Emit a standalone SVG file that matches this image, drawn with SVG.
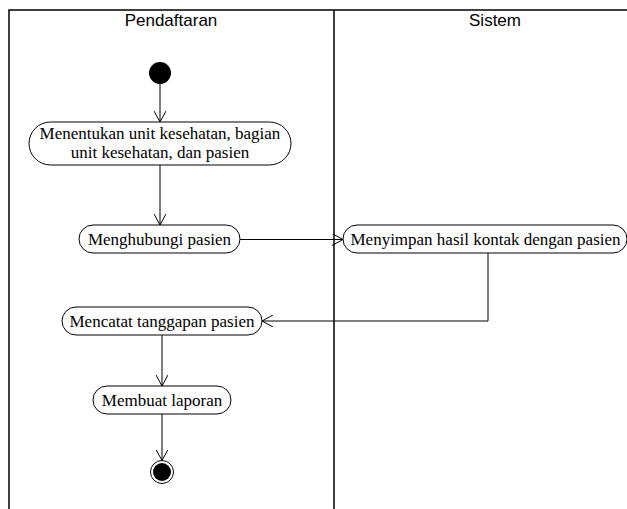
<svg xmlns="http://www.w3.org/2000/svg" width="627" height="509" viewBox="0 0 627 509">
  <defs>
    <marker id="open" viewBox="0 0 12 12" refX="11" refY="6" markerWidth="12" markerHeight="12" markerUnits="userSpaceOnUse" orient="auto">
      <path d="M0,0 L11,6 L0,12" fill="none" stroke="#000" stroke-width="1"/>
    </marker>
  </defs>
  <style>
    .lane { stroke: #000; stroke-width: 1.5; fill: none; }
    .hdr { font-family: "Liberation Sans", Arial, sans-serif; font-size: 17px; fill: #000; text-anchor: middle; }
    .act rect { fill: #fff; stroke: #000; stroke-width: 1; }
    .act text { font-family: "Liberation Serif", "Times New Roman", serif; font-size: 17px; fill: #000; text-anchor: middle; }
    .edge { stroke: #000; stroke-width: 1; fill: none; marker-end: url(#open); }
  </style>
  <rect width="627" height="509" fill="#fff"/>

  <!-- swimlanes -->
  <g id="lanes">
    <path class="lane" d="M9,509 V10 H627 M334,10 V509"/>
    <text class="hdr" x="171" y="26">Pendaftaran</text>
    <text class="hdr" x="495" y="26">Sistem</text>
  </g>

  <g id="start">
    <circle cx="160" cy="73" r="11" fill="#000"/>
  </g>

  <g id="a1" class="act">
    <rect x="29" y="122" width="262" height="43" rx="21.5"/>
    <text x="160" y="139">Menentukan unit kesehatan, bagian</text>
    <text x="160" y="157.5">unit kesehatan, dan pasien</text>
  </g>

  <g id="a2" class="act">
    <rect x="79" y="225" width="161" height="28" rx="14"/>
    <text x="159.5" y="245">Menghubungi pasien</text>
  </g>

  <g id="a3" class="act">
    <rect x="343" y="225" width="284" height="28" rx="14"/>
    <text x="485.5" y="245">Menyimpan hasil kontak dengan pasien</text>
  </g>

  <g id="a4" class="act">
    <rect x="62" y="307" width="200" height="28" rx="14"/>
    <text x="162" y="327">Mencatat tanggapan pasien</text>
  </g>

  <g id="a5" class="act">
    <rect x="93" y="386" width="138" height="28" rx="14"/>
    <text x="162" y="406">Membuat laporan</text>
  </g>

  <g id="end">
    <circle cx="162" cy="472" r="11.5" fill="#fff" stroke="#000" stroke-width="1"/>
    <circle cx="162" cy="472" r="9" fill="#000"/>
  </g>

  <!-- control flows -->
  <g id="edges">
    <path class="edge" d="M160,84 V122"/>
    <path class="edge" d="M160,165 V225"/>
    <path class="edge" d="M240,239.5 H343"/>
    <path class="edge" d="M488,253 V321 H262"/>
    <path class="edge" d="M162,335 V386"/>
    <path class="edge" d="M162,414 V460.5"/>
  </g>
</svg>
